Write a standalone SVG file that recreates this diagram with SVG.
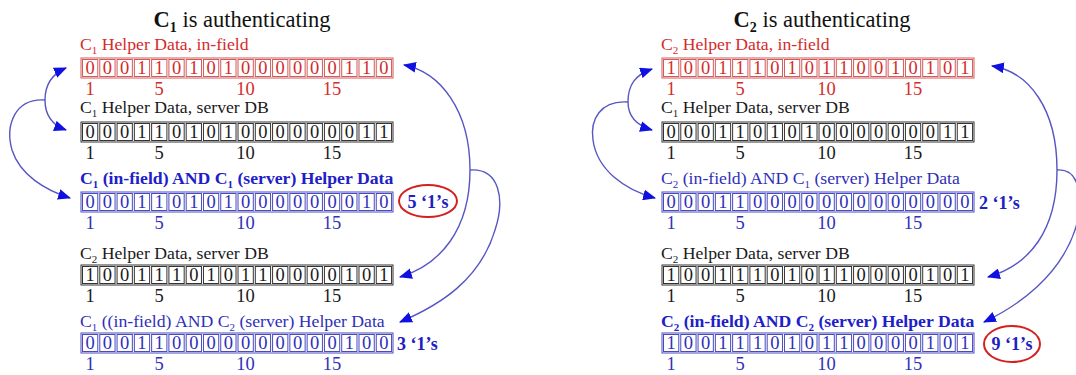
<svg xmlns="http://www.w3.org/2000/svg" width="1076" height="375" viewBox="0 0 1076 375">
<style>
text{font-family:"Liberation Serif","Times New Roman",serif}
.ttl{font-size:22.5px;fill:#111}
.lbl{font-size:17.7px}
.dig{font-size:18.5px;text-anchor:middle}
.num{font-size:18.5px;text-anchor:middle}
.red{fill:#d42b2b}
.blk{fill:#1a1a1a}
.blu{fill:#2f2fb8}
.blub{fill:#2020c8;font-weight:bold}
.cnt{font-size:18px;font-weight:bold;fill:#2020c0}
.fr{fill:none;stroke-width:1}
.rs{stroke:#d45a5a}
.ks{stroke:#333}
.bs{stroke:#4a4ac0}
.conn path{fill:none;stroke:#5656c4;stroke-width:1.4}
.oval{fill:none;stroke:#d42020;stroke-width:2}
</style>
<defs>
<g id="cells">
<rect x="0" y="0" width="312" height="20"/>
<rect x="1.5" y="1.5" width="15.28" height="17"/><rect x="18.78" y="1.5" width="15.28" height="17"/><rect x="36.06" y="1.5" width="15.28" height="17"/><rect x="53.34" y="1.5" width="15.28" height="17"/><rect x="70.62" y="1.5" width="15.28" height="17"/><rect x="87.9" y="1.5" width="15.28" height="17"/><rect x="105.18" y="1.5" width="15.28" height="17"/><rect x="122.46" y="1.5" width="15.28" height="17"/><rect x="139.74" y="1.5" width="15.28" height="17"/><rect x="157.02" y="1.5" width="15.28" height="17"/><rect x="174.3" y="1.5" width="15.28" height="17"/><rect x="191.58" y="1.5" width="15.28" height="17"/><rect x="208.86" y="1.5" width="15.28" height="17"/><rect x="226.14" y="1.5" width="15.28" height="17"/><rect x="243.42" y="1.5" width="15.28" height="17"/><rect x="260.7" y="1.5" width="15.28" height="17"/><rect x="277.98" y="1.5" width="15.28" height="17"/><rect x="295.26" y="1.5" width="15.28" height="17"/>
</g>
<marker id="ah" viewBox="0 0 12 10" refX="11" refY="5" markerWidth="13" markerHeight="11" markerUnits="userSpaceOnUse" orient="auto">
<path d="M0,0 L12,5 L0,10 z" fill="#1010e0"/>
</marker>
</defs>

<!-- Left panel -->
<text id="title1" class="ttl" x="242" y="27" text-anchor="middle"><tspan font-weight="bold">C<tspan font-size="14" dy="5">1</tspan></tspan><tspan dy="-5"> is authenticating</tspan></text>

<g id="L1" transform="translate(81,58)">
<text class="lbl red" x="-1" y="-8">C<tspan font-size="11" dy="4">1</tspan><tspan dy="-4"> Helper Data, in-field</tspan></text>
<use href="#cells" class="fr rs"/>
<text class="dig red" x="9.1 26.4 43.7 60.9 78.2 95.5 112.8 130.1 147.3 164.6 181.9 199.2 216.5 233.7 251.0 268.3 285.6 302.9" y="16">000110101000000110</text>
<text class="num red" x="9.1" y="37">1</text><text class="num red" x="78.2" y="37">5</text><text class="num red" x="164.6" y="37">10</text><text class="num red" x="251" y="37">15</text>
</g>

<g id="L2" transform="translate(81,122)">
<text class="lbl blk" x="-1" y="-9">C<tspan font-size="11" dy="4">1</tspan><tspan dy="-4"> Helper Data, server DB</tspan></text>
<use href="#cells" class="fr ks"/>
<text class="dig blk" x="9.1 26.4 43.7 60.9 78.2 95.5 112.8 130.1 147.3 164.6 181.9 199.2 216.5 233.7 251.0 268.3 285.6 302.9" y="16">000110101000000011</text>
<text class="num blk" x="9.1" y="37">1</text><text class="num blk" x="78.2" y="37">5</text><text class="num blk" x="164.6" y="37">10</text><text class="num blk" x="251" y="37">15</text>
</g>

<g id="L3" transform="translate(81,192)">
<text class="lbl blub" x="-1" y="-8">C<tspan font-size="11" dy="4">1</tspan><tspan dy="-4"> (in-field) AND C</tspan><tspan font-size="11" dy="4">1</tspan><tspan dy="-4"> (server) Helper Data</tspan></text>
<use href="#cells" class="fr bs"/>
<text class="dig blu" x="9.1 26.4 43.7 60.9 78.2 95.5 112.8 130.1 147.3 164.6 181.9 199.2 216.5 233.7 251.0 268.3 285.6 302.9" y="16">000110101000000010</text>
<text class="num blu" x="9.1" y="37">1</text><text class="num blu" x="78.2" y="37">5</text><text class="num blu" x="164.6" y="37">10</text><text class="num blu" x="251" y="37">15</text>
<ellipse class="oval" cx="347" cy="9" rx="29" ry="16"/>
<text class="cnt" x="347" y="16" text-anchor="middle">5 ‘1’s</text>
</g>

<g id="L4" transform="translate(81,265)">
<text class="lbl blk" x="-1" y="-6">C<tspan font-size="11" dy="4">2</tspan><tspan dy="-4"> Helper Data, server DB</tspan></text>
<use href="#cells" class="fr ks"/>
<text class="dig blk" x="9.1 26.4 43.7 60.9 78.2 95.5 112.8 130.1 147.3 164.6 181.9 199.2 216.5 233.7 251.0 268.3 285.6 302.9" y="16">100111010110000101</text>
<text class="num blk" x="9.1" y="37">1</text><text class="num blk" x="78.2" y="37">5</text><text class="num blk" x="164.6" y="37">10</text><text class="num blk" x="251" y="37">15</text>
</g>

<g id="L5" transform="translate(81,333)">
<text class="lbl blu" x="-1" y="-6">C<tspan font-size="11" dy="4">1</tspan><tspan dy="-4"> ((in-field) AND C</tspan><tspan font-size="11" dy="4">2</tspan><tspan dy="-4"> (server) Helper Data</tspan></text>
<use href="#cells" class="fr bs"/>
<text class="dig blu" x="9.1 26.4 43.7 60.9 78.2 95.5 112.8 130.1 147.3 164.6 181.9 199.2 216.5 233.7 251.0 268.3 285.6 302.9" y="16">000110000000000100</text>
<text class="num blu" x="9.1" y="37">1</text><text class="num blu" x="78.2" y="37">5</text><text class="num blu" x="164.6" y="37">10</text><text class="num blu" x="251" y="37">15</text>
<text class="cnt" x="316" y="17">3 ‘1’s</text>
</g>

<!-- Right panel -->
<text id="title2" class="ttl" x="822" y="27" text-anchor="middle"><tspan font-weight="bold">C<tspan font-size="14" dy="5">2</tspan></tspan><tspan dy="-5"> is authenticating</tspan></text>

<g id="R1" transform="translate(662,58)">
<text class="lbl red" x="-1" y="-8">C<tspan font-size="11" dy="4">2</tspan><tspan dy="-4"> Helper Data, in-field</tspan></text>
<use href="#cells" class="fr rs"/>
<text class="dig red" x="9.1 26.4 43.7 60.9 78.2 95.5 112.8 130.1 147.3 164.6 181.9 199.2 216.5 233.7 251.0 268.3 285.6 302.9" y="16">100111010110010101</text>
<text class="num red" x="9.1" y="37">1</text><text class="num red" x="78.2" y="37">5</text><text class="num red" x="164.6" y="37">10</text><text class="num red" x="251" y="37">15</text>
</g>

<g id="R2" transform="translate(662,122)">
<text class="lbl blk" x="-1" y="-9">C<tspan font-size="11" dy="4">1</tspan><tspan dy="-4"> Helper Data, server DB</tspan></text>
<use href="#cells" class="fr ks"/>
<text class="dig blk" x="9.1 26.4 43.7 60.9 78.2 95.5 112.8 130.1 147.3 164.6 181.9 199.2 216.5 233.7 251.0 268.3 285.6 302.9" y="16">000110101000000011</text>
<text class="num blk" x="9.1" y="37">1</text><text class="num blk" x="78.2" y="37">5</text><text class="num blk" x="164.6" y="37">10</text><text class="num blk" x="251" y="37">15</text>
</g>

<g id="R3" transform="translate(662,192)">
<text class="lbl blu" x="-1" y="-8">C<tspan font-size="11" dy="4">2</tspan><tspan dy="-4"> (in-field) AND C</tspan><tspan font-size="11" dy="4">1</tspan><tspan dy="-4"> (server) Helper Data</tspan></text>
<use href="#cells" class="fr bs"/>
<text class="dig blu" x="9.1 26.4 43.7 60.9 78.2 95.5 112.8 130.1 147.3 164.6 181.9 199.2 216.5 233.7 251.0 268.3 285.6 302.9" y="16">000110000000000000</text>
<text class="num blu" x="9.1" y="37">1</text><text class="num blu" x="78.2" y="37">5</text><text class="num blu" x="164.6" y="37">10</text><text class="num blu" x="251" y="37">15</text>
<text class="cnt" x="317" y="17">2 ‘1’s</text>
</g>

<g id="R4" transform="translate(662,265)">
<text class="lbl blk" x="-1" y="-6">C<tspan font-size="11" dy="4">2</tspan><tspan dy="-4"> Helper Data, server DB</tspan></text>
<use href="#cells" class="fr ks"/>
<text class="dig blk" x="9.1 26.4 43.7 60.9 78.2 95.5 112.8 130.1 147.3 164.6 181.9 199.2 216.5 233.7 251.0 268.3 285.6 302.9" y="16">100111010110000101</text>
<text class="num blk" x="9.1" y="37">1</text><text class="num blk" x="78.2" y="37">5</text><text class="num blk" x="164.6" y="37">10</text><text class="num blk" x="251" y="37">15</text>
</g>

<g id="R5" transform="translate(662,333)">
<text class="lbl blub" x="-1" y="-6">C<tspan font-size="11" dy="4">2</tspan><tspan dy="-4"> (in-field) AND C</tspan><tspan font-size="11" dy="4">2</tspan><tspan dy="-4"> (server) Helper Data</tspan></text>
<use href="#cells" class="fr bs"/>
<text class="dig blu" x="9.1 26.4 43.7 60.9 78.2 95.5 112.8 130.1 147.3 164.6 181.9 199.2 216.5 233.7 251.0 268.3 285.6 302.9" y="16">100111010110000101</text>
<text class="num blu" x="9.1" y="37">1</text><text class="num blu" x="78.2" y="37">5</text><text class="num blu" x="164.6" y="37">10</text><text class="num blu" x="251" y="37">15</text>
<ellipse class="oval" cx="350" cy="11" rx="28" ry="18"/>
<text class="cnt" x="350" y="17" text-anchor="middle">9 ‘1’s</text>
</g>

<g id="connectors" class="conn">
<path d="M45,100 C45,85 52,74 66,68" marker-end="url(#ah)"/>
<path d="M45,100 C45,115 52,125 66,130" marker-end="url(#ah)"/>
<path d="M45,100 C15,98 5,125 12,150 C20,175 45,190 70,198" marker-end="url(#ah)"/>
<path d="M470,170 C470,110 440,72 404,65" marker-end="url(#ah)"/>
<path d="M470,170 C470,230 440,265 400,277" marker-end="url(#ah)"/>
<path d="M470,170 C500,168 505,200 495,230 C480,280 440,305 400,322" marker-end="url(#ah)"/>
<path d="M628,102 C628,85 635,75 652,69" marker-end="url(#ah)"/>
<path d="M628,102 C628,115 635,125 652,130" marker-end="url(#ah)"/>
<path d="M628,102 C600,100 590,120 593,140 C597,170 625,190 655,198" marker-end="url(#ah)"/>
<path d="M1057,170 C1057,110 1030,72 992,66" marker-end="url(#ah)"/>
<path d="M1057,170 C1057,230 1030,265 988,277" marker-end="url(#ah)"/>
<path d="M1057,170 C1080,168 1085,200 1075,230 C1060,275 1020,305 984,322" marker-end="url(#ah)"/>
</g>
</svg>
